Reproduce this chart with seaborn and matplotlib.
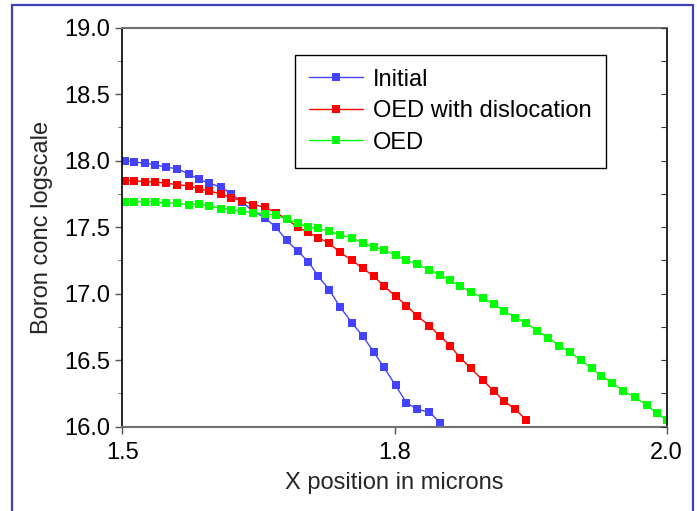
import numpy as np
import pandas as pd
import seaborn as sns
import matplotlib
matplotlib.use("Agg")
import matplotlib.pyplot as plt
from matplotlib.patches import Rectangle
from matplotlib.ticker import MultipleLocator, FixedLocator

# x positions (microns)
x_pos = [1.502, 1.511, 1.521, 1.530, 1.540, 1.550, 1.561, 1.570, 1.580, 1.591,
         1.600, 1.610, 1.620, 1.631, 1.641, 1.651, 1.661, 1.671, 1.680, 1.690,
         1.700, 1.711, 1.721, 1.731, 1.740, 1.751, 1.761, 1.771, 1.782, 1.792,
         1.801, 1.810, 1.820, 1.831, 1.841, 1.851, 1.861, 1.871, 1.881, 1.891,
         1.901, 1.911, 1.921, 1.931, 1.940, 1.950, 1.960, 1.971, 1.982, 1.991,
         2.000]

initial = [18.00, 17.99, 17.98, 17.97, 17.95, 17.94, 17.90, 17.86, 17.83, 17.80,
           17.75, 17.69, 17.62, 17.57, 17.50, 17.40, 17.32, 17.24, 17.13, 17.03,
           16.90, 16.78, 16.68, 16.56, 16.45, 16.31, 16.18, 16.13, 16.11, 16.03]

oed_disl = [17.85, 17.85, 17.84, 17.84, 17.83, 17.82, 17.81, 17.79, 17.77, 17.75,
            17.72, 17.70, 17.67, 17.65, 17.61, 17.56, 17.50, 17.46, 17.42, 17.38,
            17.31, 17.25, 17.19, 17.13, 17.06, 16.98, 16.91, 16.83, 16.76, 16.68,
            16.61, 16.52, 16.44, 16.35, 16.27, 16.19, 16.13, 16.05]

oed = [17.69, 17.69, 17.69, 17.69, 17.68, 17.68, 17.67, 17.675, 17.66, 17.64,
       17.63, 17.62, 17.61, 17.60, 17.59, 17.56, 17.53, 17.50, 17.49, 17.47,
       17.44, 17.42, 17.38, 17.35, 17.33, 17.29, 17.25, 17.22, 17.18, 17.14,
       17.10, 17.06, 17.01, 16.97, 16.92, 16.87, 16.82, 16.78, 16.72, 16.67,
       16.61, 16.56, 16.50, 16.44, 16.38, 16.33, 16.27, 16.22, 16.16, 16.10,
       16.05]

series = [("Initial", initial, "#4343FF"),
          ("OED with dislocation", oed_disl, "#FF0000"),
          ("OED", oed, "#00FF00")]

sns.set_style("ticks")
plt.rcParams['font.family'] = ['Liberation Sans', 'DejaVu Sans']

fig = plt.figure(figsize=(6.97, 5.11), dpi=100)
ax = fig.add_axes([0.1755, 0.165, 0.781, 0.781])

for name, vals, col in series:
    df = pd.DataFrame({"x": x_pos[:len(vals)], "y": vals})
    sns.lineplot(data=df, x="x", y="y", ax=ax, color=col, lw=1, marker="s",
                 markersize=5.2, markeredgewidth=0, label=name, estimator=None,
                 sort=False)

ax.set_xlim(1.5, 2.0)
ax.set_ylim(16.0, 19.0)
ax.xaxis.set_major_locator(FixedLocator([1.5, 1.75, 2.0]))
ax.set_xticklabels(["1.5", "1.8", "2.0"])
ax.yaxis.set_major_locator(MultipleLocator(0.5))
ax.yaxis.set_minor_locator(MultipleLocator(0.25))
ax.yaxis.set_major_formatter(matplotlib.ticker.FormatStrFormatter('%.1f'))

ax.tick_params(axis='both', labelsize=17, colors='#555555', labelcolor='black',
               width=1, length=5, direction='out')
ax.tick_params(axis='y', which='minor', length=3, colors='#555555')
ax.tick_params(axis='x', pad=6)

# inward ticks on the right spine
ax2 = ax.twinx()
ax2.set_ylim(16.0, 19.0)
ax2.yaxis.set_major_locator(MultipleLocator(0.25))
ax2.tick_params(axis='y', direction='in', length=4, colors='#333333', labelright=False)
for s in ax2.spines.values():
    s.set_visible(False)
ax.tick_params(axis='y', which='both', right=False)

for side in ['left', 'right']:
    ax.spines[side].set_visible(True)
    ax.spines[side].set_color('black')
    ax.spines[side].set_linewidth(1.2)
for side in ['top', 'bottom']:
    ax.spines[side].set_visible(True)
    ax.spines[side].set_color('#707070')
    ax.spines[side].set_linewidth(1.5)

ax.set_xlabel("X position in microns", fontsize=17, labelpad=6)
ax.set_ylabel("Boron conc logscale", fontsize=17, labelpad=8)

leg = ax.legend(loc='upper left', bbox_to_anchor=(0.317, 0.9325), fontsize=17,
                frameon=True, fancybox=False, edgecolor='black', framealpha=1,
                handlelength=2.3, handletextpad=0.4, labelspacing=0.4,
                borderpad=0.6, borderaxespad=0, numpoints=1)
leg.get_frame().set_linewidth(1)
for t in leg.get_texts():
    t.set_color('black')

# figure border
fig.patches.append(Rectangle((12 / 697, -0.05), (693 - 12) / 697, 1.04,
                             transform=fig.transFigure, fill=False,
                             edgecolor='#3F3FBF', linewidth=1.6))

fig.savefig("out.png", dpi=100)
